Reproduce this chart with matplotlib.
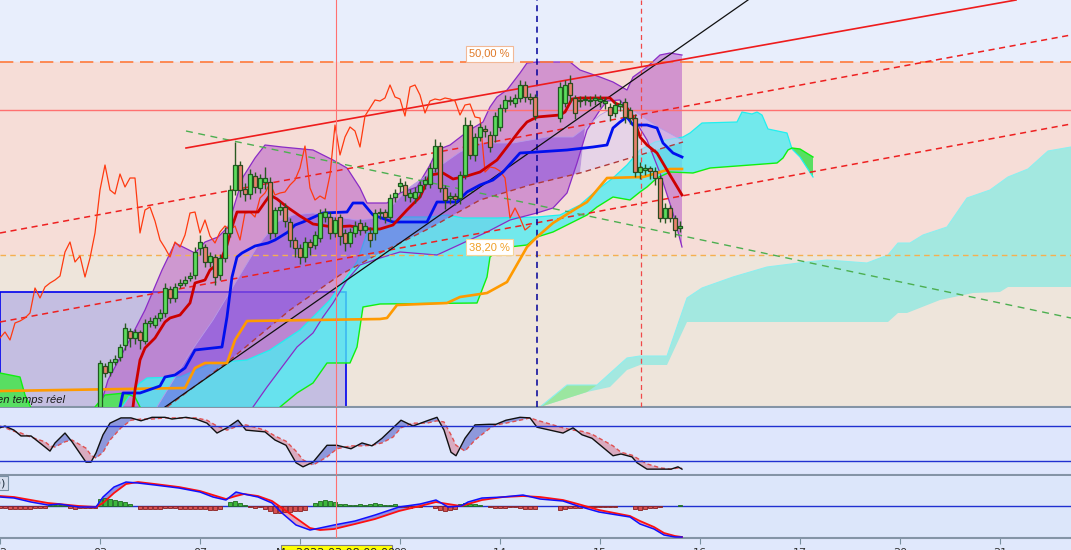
import matplotlib.pyplot as plt
import numpy as np
from matplotlib.patches import Rectangle

# ---- bougies (unite : barre ; prix en points) ----
opens = [0, 41, 35, 45, 50, 62, 76, 69, 75, 66,
         84, 82, 89, 94, 118, 109, 122, 124, 129, 132,
         159, 160, 145, 150, 132, 149, 174, 217, 242, 218,
         213, 231, 219, 225, 225, 174, 197, 200, 185, 167,
         159, 150, 165, 162, 169, 190, 190, 174, 190, 174,
         164, 174, 184, 177, 174, 174, 194, 195, 190, 210,
         221, 222, 210, 209, 215, 223, 223, 239, 261, 219,
         209, 211, 209, 232, 282, 252, 270, 278, 272, 272,
         280, 299, 307, 304, 309, 322, 310, 310, None, None,
         None, None, 289, 304, 324, 309, 307, 307, 306, 307,
         306, 304, 300, 294, 301, 305, 297, 289, 235, 237,
         239, 236, 229, 189, 199, 189, 179]
closes = [44, 34, 45, 48, 60, 79, 69, 75, 67, 84,
          86, 89, 94, 119, 109, 120, 124, 127, 131, 155,
          165, 145, 151, 130, 149, 174, 217, 242, 217, 213,
          233, 220, 229, 229, 174, 197, 200, 186, 167, 159,
          150, 165, 160, 172, 194, 195, 174, 187, 171, 164,
          175, 181, 177, 181, 167, 194, 195, 190, 209, 214,
          224, 212, 214, 215, 222, 227, 239, 261, 219, 207,
          211, 208, 232, 282, 252, 270, 280, 276, 260, 291,
          299, 307, 306, 309, 322, 310, 308, 291, None, None,
          None, None, 320, 322, 312, 294, 306, 308, 307, 309,
          308, 306, 292, 302, 303, 290, 289, 235, 240, 239,
          236, 229, 189, 199, 189, 177, 181]
highs = [47, 44, 48, 52, 63, 84, 79, 78, 77, 88,
         90, 92, 98, 124, 121, 124, 128, 131, 135, 160,
         172, 163, 155, 153, 153, 180, 222, 265, 246, 224,
         238, 235, 233, 240, 230, 200, 205, 204, 189, 170,
         163, 170, 168, 176, 198, 199, 195, 190, 193, 178,
         179, 186, 188, 185, 180, 198, 199, 198, 213, 218,
         229, 226, 218, 220, 226, 231, 244, 268, 265, 222,
         215, 214, 236, 290, 287, 274, 284, 282, 276, 295,
         303, 312, 311, 313, 327, 326, 314, 313, None, None,
         None, None, 325, 327, 332, 312, 311, 312, 311, 313,
         312, 310, 304, 306, 307, 309, 300, 293, 245, 243,
         241, 240, 232, 204, 202, 192, 186]
lows = [0, 30, 31, 42, 46, 57, 60, 63, 58, 63,
        80, 79, 86, 90, 104, 105, 119, 121, 126, 128,
        152, 140, 140, 122, 127, 145, 170, 212, 210, 206,
        208, 214, 214, 218, 168, 170, 192, 180, 160, 150,
        143, 145, 152, 158, 165, 185, 168, 170, 162, 156,
        160, 170, 172, 174, 160, 167, 188, 184, 186, 205,
        215, 206, 205, 204, 210, 218, 219, 235, 215, 198,
        203, 202, 203, 228, 248, 246, 266, 270, 255, 265,
        276, 295, 302, 300, 305, 305, 303, 287, None, None,
        None, None, 285, 300, 305, 288, 300, 302, 301, 302,
        300, 298, 286, 290, 296, 284, 283, 230, 228, 232,
        228, 222, 185, 184, 185, 170, 175]
first_bar = 20
chikou_shift = 26

# ---- ichimoku ----
tenkan_x = [26.6, 27, 28, 29, 31, 33, 34, 36, 38, 39, 41, 42, 44, 45.4, 46.4, 47.4, 51.6, 53, 54, 55.4,
            57.4, 60, 62.6, 66.6, 70, 74, 76, 78.6, 81.4, 84, 86, 88.6, 90.6, 93.4, 96, 99.4, 101.4, 104,
            105.4, 107.4, 112, 113, 114.4, 116, 122, 123, 125.4, 126.4, 127.4, 128, 129.4, 131.4, 133.4,
            134.6, 136.4]
tenkan_v = [0, 17, 47, 59, 69, 85, 89, 92, 104, 124, 127, 137, 145, 162, 180, 195, 195, 205, 212, 208,
            200, 191, 183, 180, 181, 178, 178, 182, 197, 210, 232, 234, 228, 231, 235, 247, 260, 277,
            285, 290, 292, 295, 308, 309, 309, 304, 299, 292, 279, 270, 262, 254, 237,
            227, 212]
kijun_x = [24, 24.6, 28, 32, 33, 35, 37, 39, 44.4, 45.4, 46.4, 47.4, 48.4, 51, 53.6, 55, 57.6, 59, 60.6,
           64.6, 69.4, 70.6, 72.6, 74.6, 78.6, 85.4, 87.4, 91.4, 93.4, 96, 98.6, 100.6, 104, 107.4, 113.4,
           118.6, 121.4, 122.6, 124, 125.4, 126.6, 129.4, 131.4, 132.6, 134.6, 136.4]
kijun_v = [0, 14, 14, 21, 30, 32, 39, 57, 60, 90, 130, 150, 154, 161, 164, 167, 175, 182, 185,
           194, 195, 204, 204, 192, 185, 185, 205, 205, 215, 222, 227, 235, 254, 255, 257,
           260, 262, 279, 285, 290, 282, 282, 279, 264, 254, 250]
span_a_x = [0, 12, 20, 24, 26, 28, 29.4, 36, 42.6, 49.4, 54, 60, 66, 71.4, 73.4, 76, 80, 86, 89.4, 92.6,
            99.4, 107.4, 112, 116, 119.4, 122.6, 125.4, 128, 131, 136.6, 138, 140.4, 147.4, 148.4, 150.4,
            151.4, 152.4, 153.6, 157.4, 158.4, 160, 162.6]
span_a_v = [-23, -23, -13, -3, 12, 24, 29, 30, 44, 47, 57, 77, 107, 145, 174, 177, 190, 190, 192, 189,
            189, 190, 192, 202, 217, 229, 242, 257, 265, 270, 274, 284, 285, 295, 293,
            295, 292, 278, 274, 258, 250, 230]
span_b_x = [0, 4, 5, 6.4, 8, 18, 19, 21, 25, 27, 28, 30, 54, 56, 59.4, 62.6, 65.4, 70, 71.4, 72.6, 76,
            95.4, 97.4, 98, 100, 105.4, 107.4, 110.6, 115.4, 117.4, 119.4, 122.6, 126, 128, 129.4, 131.4,
            134, 138.6, 142, 147.4, 155.4, 156.6, 157.6, 158.4, 160, 162.6]
span_b_v = [34, 30, 12, -3, -23, -23, 0, 12, 14, 10, 0, -23, -23, 0, 14, 24, 44, 44, 60, 100, 103,
            104, 130, 150, 159, 162, 170, 175, 187, 192, 200, 210, 207, 215, 220, 229,
            235, 234, 239, 241, 244, 249, 257, 259, 258, 250]
trail_x = [0, 37, 39, 41, 45.4, 47, 49.4, 76, 77.4, 79.4, 89.4, 92, 97.4, 101.4, 105.4, 107.4, 110.6,
           115.4, 117.4, 121.4, 128.6, 131.4, 134, 136.4]
trail_v = [16, 19, 39, 44, 44, 67, 86, 88, 89, 102, 104, 110, 114, 125, 160, 170, 184,
           199, 205, 229, 230, 234, 238, 238]

# nuage de l'unite superieure (a droite)
htf_top_x = [108, 113.4, 119.4, 125.4, 128, 133.4, 137.4, 140.4, 146.6, 153.4, 161.4, 165.4, 173.4, 177.6,
             179.6, 182, 184.6, 189.4, 193.4, 198, 201.6, 205.6, 209.6, 214.2]
htf_top_v = [0, 22, 22, 49, 51, 51, 109, 119, 130, 140, 145, 147, 144, 152,
             164, 164, 172, 180, 209, 217, 230, 238, 256, 260]
htf_bot_x = [108, 117.4, 122, 125.4, 128, 133.4, 137.4, 177.6, 179.6, 181.4, 188, 194.6, 200, 201.6, 214.2]
htf_bot_v = [0, 15, 20, 37, 42, 42, 85, 85, 94, 94, 107, 114, 115, 120, 120]

# ---- bandes ----
bb_up_x = [20, 21.6, 25.6, 29, 32.4, 35, 36.6, 39, 41, 43.6, 45.6, 47, 48.6, 51, 53, 56.4, 62.6, 66.6, 69.4,
           72, 73.4, 77.4, 80, 83.4, 86, 87.4, 90, 92.6, 94.6, 96.6, 98, 99.4, 101.4, 104, 105.4, 107.4,
           114, 116, 120, 122.6, 125.4, 126.6, 129.4, 132, 134, 136.4]
bb_up_v = [0, 27, 64, 97, 137, 164, 160, 154, 165, 170, 180, 204, 230, 249, 262, 260, 257, 247, 239,
           219, 204, 204, 214, 220, 242, 257, 262, 272, 279, 285, 300, 310, 317, 334, 344, 345,
           345, 337, 330, 325, 317, 330, 340, 352, 354, 352]
bb_lo_x = [50.6, 53.4, 59.4, 62.6, 64.6, 66.6, 69.4, 72, 76, 80, 87.4, 92.6, 97.4, 102, 107.4, 110.6, 113.4,
           115.4, 117.4, 120, 121.4, 124, 126.6, 129.4, 132, 134.6, 136.4]
bb_lo_v = [0, 20, 60, 74, 90, 104, 127, 142, 149, 155, 152, 164, 175, 187, 194, 199, 214,
           244, 277, 297, 306, 307, 290, 267, 234, 194, 160]
in_up_x = [31.4, 38, 42.6, 47.4, 51.4, 55.4, 58.6, 62.6, 67.4, 71.4, 76, 82, 86, 92, 96, 102.6, 109.4, 114.6,
           117, 120, 122.6, 125.4, 128, 132, 136.4]
in_up_v = [0, 54, 87, 127, 160, 185, 192, 194, 190, 187, 189, 220, 234, 255, 264, 264, 270, 270,
           279, 292, 299, 301, 292, 279, 267]
in_lo_x = [33.4, 46, 58, 68, 76, 86, 96, 106, 116, 126, 136.6]
in_lo_v = [0, 47, 97, 132, 154, 179, 207, 222, 234, 249, 265]

# ---- niveaux et droites ----
fib_50 = 345
fib_382 = 152
level_line = 297
black_x, black_v = [33, 149.6], [0, 407]
chan_x, chan_v = [37.2, 203.2], [259, 407]
dash1_x, dash1_v = [0, 214.2], [174, 372]
dash2_x, dash2_v = [0, 214.2], [85, 283]
green_x, green_v = [37.2, 214.2], [276, 89]
vline_cursor = 67.2
vline_blue = 107.4
vline_red = 128.2
box_x, box_w, box_h = 0, 69.2, 115

# ---- stochastique ----
sto_x = [0, 1, 2.8, 4.2, 6.2, 9, 10, 11, 13, 14.4, 17.2, 18.2, 19.2, 20.6, 22, 24.2, 26.2, 28.2, 30.4, 33,
         34.4, 37.2, 39.2, 41.4, 43.4, 45.4, 47.6, 49.2, 53, 55, 57.2, 59.2, 60.6, 62.6, 65.4, 67.4, 70.2,
         72.4, 74.4, 76.4, 78.6, 80.2, 82.6, 85.4, 87.4, 88.8, 90.2, 91.2, 93, 95, 97.8, 99.2, 101.2, 104,
         106, 107.4, 112.6, 114.6, 116.4, 118.4, 122.6, 124.2, 126.4, 127.4, 129.4, 132.2, 134.2, 135.6, 136.4]
sto_k = [77, 80, 73, 63, 63, 44, 37, 51, 68, 53,
         18, 18, 34, 65, 85, 94, 94, 89, 95, 95,
         92, 95, 92, 85, 68, 77, 90, 73, 70, 56,
         47, 17, 10, 18, 47, 47, 41, 51, 46, 59,
         77, 90, 80, 89, 95, 73, 35, 29, 59, 82,
         83, 83, 90, 95, 94, 78, 68, 77, 65, 59,
         29, 32, 27, 17, 6, 6, 6, 10, 6]
sto_d = [80, 77, 71, 68, 61, 53, 46, 44, 53, 56,
         42, 30, 25, 35, 56, 77, 90, 92, 92, 94,
         94, 94, 94, 90, 80, 73, 80, 82, 73, 63,
         54, 37, 22, 13, 27, 41, 46, 46, 47, 51,
         61, 77, 85, 85, 89, 87, 65, 47, 37, 56,
         75, 82, 85, 90, 94, 90, 77, 73, 71, 66,
         46, 35, 30, 25, 15, 8, 6, 8, 8]

# ---- MACD ----
macd_x = [0, 2.8, 6.2, 9.6, 11.8, 15.8, 19.2, 20.6, 22.8, 25.2, 27.6, 31, 35.8, 40, 42.6, 45.2, 47.2, 48.8,
          51.6, 54.4, 56.4, 59.2, 62, 64, 66.8, 71, 75, 79.8, 84, 87.2, 89.6, 92.2, 93.6, 96.4, 100.6,
          104.6, 108, 112.6, 115.6, 119.8, 126, 128, 130.8, 132.8, 135, 136.4]
macd_v = [9, 8, 4, 1, 2, -1, -1, 9, 19, 24, 23, 21, 18, 14, 9, 6, 14, 12, 9, 3,
          -7, -19, -24, -22, -19, -15, -9, -1, 2, 6, -1, 0, 4, 8, 9, 11, 7, 5, 0, -6,
          -11, -18, -23, -29, -31, -31]
signal_v = [10, 9, 6, 3, 2, 0, -1, 3, 13, 22, 24, 22, 19, 15, 11, 7, 10, 12, 10, 5,
            -2, -12, -22, -24, -23, -18, -13, -5, 0, 4, 2, 0, 2, 6, 9, 10, 9, 6, 2, -4,
            -10, -15, -21, -27, -30, -31]
hist_v = [-2, -2, -3, -3, -3, -3, -3, -2, -2, -2, 1, 1, 1, 1, -2, -3, -2, -2, -2, -2,
          7, 8, 7, 6, 5, 4, 2, 0, -3, -3, -3, -3, -3, -2, -2, -2, -3, -3, -3, -3,
          -3, -3, -4, -4, -3, 0, 4, 5, 3, 1, -1, -2, -1, -3, -5, -7, -7, -6, -6, -5,
          -5, -4, 0, 3, 5, 6, 5, 4, 2, 2, 1, 1, 2, 1, 2, 3, 2, 1, 1, 2,
          -1, -1, -2, -1, -1, 0, 0, -2, -4, -5, -4, -3, 2, 3, 2, 2, 1, 0, -1, -2,
          -2, -2, -1, -1, -2, -3, -3, -3, 0, 0, 0, 0, -4, -3, -2, -2, -2, -1, -1, -1,
          -1, -1, -1, -1, 0, 0, 0, -3, -4, -3, -2, -2, -1, 0, 0, 0, 1]

day_ticks = [0, 20, 40, 60, 80, 100, 120, 140, 160, 180, 200]
day_labels = ['02', '03', '07', '', '09', '14', '15', '16', '17', '20', '21']
cursor_label = 'Ma 2022.03.08 09:00'


def part(xs, ys, lo, hi):
    pts = [(x, y) for x, y in zip(xs, ys) if lo <= x <= hi]
    return [p[0] for p in pts], [p[1] for p in pts]


def fill_poly(ax, xa, ya, xb, yb, **kw):
    ax.fill(list(xa) + list(xb)[::-1], list(ya) + list(yb)[::-1], **kw)


fig = plt.figure(figsize=(10.71, 5.5), dpi=100)
fig.patch.set_facecolor('#E0E8FC')
ax = fig.add_axes([0, 0.26, 1, 0.74])
ax2 = fig.add_axes([0, 0.1364, 1, 0.1218], sharex=ax)
ax3 = fig.add_axes([0, 0.0218, 1, 0.1127], sharex=ax)

# fond et zones de Fibonacci
ax.set_facecolor('#E8EEFC')
ax.axhspan(fib_382, fib_50, color='#F6DDD7', zorder=0)
ax.axhspan(-50, fib_382, color='#EEE5DB', zorder=0)

# nuage superieur
fill_poly(ax, htf_top_x, htf_top_v, htf_bot_x, htf_bot_v, color='#A3E8E0', lw=0, zorder=1)
gx1, gy1 = part(htf_top_x, htf_top_v, 100, 120)
gx2, gy2 = part(htf_bot_x, htf_bot_v, 100, 120)
fill_poly(ax, gx1, gy1, gx2, gy2, color='#9BE6A0', lw=0, zorder=1)
ax.plot(htf_top_x, htf_top_v, color='#8EEFEF', lw=0.8, zorder=1)

# rectangle bleu (sous le nuage)
ax.add_patch(Rectangle((box_x, 0), box_w, box_h, facecolor=(0.43, 0.43, 0.94, 0.32),
                       edgecolor='#0000EE', lw=1.2, zorder=1.5))

# bande exterieure
fill_poly(ax, bb_up_x, bb_up_v, bb_lo_x, bb_lo_v, color=(0.71, 0.35, 0.78, 0.55), lw=0, zorder=3)

# nuage ichimoku (par-dessus la bande exterieure, semi-transparent)
fill_poly(ax, span_a_x, span_a_v, span_b_x, span_b_v, color=(0.30, 0.93, 0.95, 0.78), lw=0, zorder=4)
for lo, hi in [(0, 8), (18, 26.5), (158, 163)]:
    bx, bv = part(span_b_x, span_b_v, lo, hi)
    axx, av = part(span_a_x, span_a_v, lo, hi)
    fill_poly(ax, bx, bv, axx, av, color='#58DE62', lw=0, zorder=4.2)
ax.plot(span_a_x, span_a_v, color='#20F0F0', lw=0.9, zorder=4.3)
ax.plot(span_b_x, span_b_v, color='#10F010', lw=1.0, zorder=4.3)

# bande interieure
ux, uv = part(in_up_x, in_up_v, 0, 117)
lx, lv = part(in_lo_x, in_lo_v, 0, 117)
fill_poly(ax, ux, uv, lx, lv, color=(0.47, 0.27, 0.9, 0.45), lw=0, zorder=5)
ux, uv = part(in_up_x, in_up_v, 116, 137)
lx, lv = part(in_lo_x, in_lo_v, 116, 137)
fill_poly(ax, ux, uv, lx, lv, color=(0.85, 0.8, 0.96, 0.55), lw=0, zorder=5)
ax.plot(bb_up_x, bb_up_v, color='#8A2BC6', lw=0.9, zorder=5)
ax.plot(bb_lo_x, bb_lo_v, color='#8A2BC6', lw=0.9, zorder=5)
ax.plot(in_up_x, in_up_v, color='#B79BE8', lw=0.6, zorder=5)
ax.plot(in_lo_x, in_lo_v, color='#B03A3A', lw=1.0, ls=(0, (4, 3)), zorder=6)

# niveaux horizontaux
ax.axhline(fib_50, color='#FF7A3A', lw=1.2, ls=(0, (8, 4)), zorder=6)
ax.axhline(level_line, color='#FF7070', lw=1.0, zorder=6)
ax.axhline(fib_382, color='#F5B050', lw=1.0, ls=(0, (4, 3)), zorder=6)

# droites
ax.plot(black_x, black_v, color='#101010', lw=0.9, zorder=7)
ax.plot(chan_x, chan_v, color='#EE1C1C', lw=1.2, zorder=7)
ax.plot(dash1_x, dash1_v, color='#EE2020', lw=1.1, ls=(0, (4, 3)), zorder=6)
ax.plot(dash2_x, dash2_v, color='#EE2020', lw=1.1, ls=(0, (4, 3)), zorder=6)
ax.plot(green_x, green_v, color='#4CAF50', lw=1.0, ls=(0, (5, 4)), zorder=6)

# verticales
for a in (ax, ax2, ax3):
    a.axvline(vline_cursor, color='#FF7070', lw=0.8, zorder=9)
ax.axvline(vline_blue, color='#000099', lw=1.1, ls=(0, (4, 3)), zorder=6)
ax.axvline(vline_red, color='#F04848', lw=0.9, ls=(0, (4, 3)), zorder=6)

# lignes ichimoku
c_arr = np.array([np.nan if c is None else c for c in closes], dtype=float)
valid = c_arr[~np.isnan(c_arr)]
chikou_x = first_bar + np.arange(len(valid)) - chikou_shift
ax.plot(chikou_x, valid, color='#FF3A10', lw=0.9, zorder=7)
ax.plot(trail_x, trail_v, color='#FF9A00', lw=1.9, zorder=7)
ax.plot(kijun_x, kijun_v, color='#0010EE', lw=2.0, zorder=7)
ax.plot(tenkan_x, tenkan_v, color='#CC0000', lw=2.0, zorder=7)

# bougies
o_arr = np.array([np.nan if v is None else v for v in opens], dtype=float)
h_arr = np.array([np.nan if v is None else v for v in highs], dtype=float)
l_arr = np.array([np.nan if v is None else v for v in lows], dtype=float)
bars = first_bar + np.arange(len(opens))
up = c_arr >= o_arr
dn = c_arr < o_arr
ax.vlines(bars, l_arr, h_arr, color='#2A5A22', lw=1.0, zorder=8)
ax.bar(bars[up], (c_arr - o_arr)[up], bottom=o_arr[up], width=0.7,
       color='#5CDC5C', edgecolor='#1E5A1E', lw=0.9, zorder=9)
ax.bar(bars[dn], (o_arr - c_arr)[dn], bottom=c_arr[dn], width=0.7,
       color='#E8806C', edgecolor='#2A4A1E', lw=0.9, zorder=9)

# etiquettes
ax.text(97.9, 353, '50,00 %', ha='center', va='center', fontsize=8, family='Liberation Sans',
        color='#E07A28', zorder=10,
        bbox=dict(boxstyle='square,pad=0.25', fc='white', ec='#F2B896', lw=0.8))
ax.text(97.9, 160, '38,20 %', ha='center', va='center', fontsize=8, family='Liberation Sans',
        color='#F0A028', zorder=10,
        bbox=dict(boxstyle='square,pad=0.25', fc='white', ec='#F5D69A', lw=0.8))
ax.text(13.0, 2, 'Données en temps réel', ha='right', va='bottom', fontsize=8, style='italic',
        family='Liberation Sans', color='#1A1A1A', zorder=10)

ax.set_xlim(0, 214.2)
ax.set_ylim(0, 407)

# stochastique
ax2.set_facecolor('#DEE6FC')
sk, sd = np.array(sto_k), np.array(sto_d)
ax2.fill_between(sto_x, sk, sd, where=sk >= sd, interpolate=True, color='#8E98DC', lw=0)
ax2.fill_between(sto_x, sk, sd, where=sk < sd, interpolate=True, color='#D9ABC0', lw=0)
ax2.plot(sto_x, sd, color='#E05050', lw=1.0, ls=(0, (3, 2)))
ax2.plot(sto_x, sk, color='#111111', lw=1.0)
ax2.axhline(80, color='#2030D0', lw=1.0)
ax2.axhline(20, color='#2030D0', lw=1.0)
ax2.set_ylim(-4, 111)

# MACD
ax3.set_facecolor('#DCE6FA')
mv, sv = np.array(macd_v), np.array(signal_v)
ax3.fill_between(macd_x, mv, sv, where=mv >= sv, interpolate=True, color='#9090E6', lw=0)
ax3.fill_between(macd_x, mv, sv, where=mv < sv, interpolate=True, color='#E6A4B6', lw=0)
hv = np.array(hist_v)
hx = np.arange(len(hist_v))
ax3.bar(hx[hv > 0], hv[hv > 0], width=0.7, color='#3CB83C', edgecolor='#1E6A1E', lw=0.6, zorder=3)
ax3.bar(hx[hv < 0], hv[hv < 0], width=0.7, color='#D85050', edgecolor='#8A2020', lw=0.6, zorder=3)
ax3.axhline(0, color='#2030D0', lw=1.0, zorder=2)
ax3.plot(macd_x, signal_v, color='#FF1010', lw=1.3, zorder=4)
ax3.plot(macd_x, macd_v, color='#1010FF', lw=1.1, zorder=4)
ax3.set_ylim(-32, 30)
ax3.text(1.2, 23, 'MACD(12,26,9)', ha='right', va='center', fontsize=8, color='#203040',
         bbox=dict(boxstyle='square,pad=0.2', fc='#D6DEEE', ec='#7A90A4', lw=0.8))

for a in (ax, ax2, ax3):
    for s in ('top', 'left', 'right'):
        a.spines[s].set_visible(False)
    a.spines['bottom'].set_color('#8494A6')
    a.spines['bottom'].set_linewidth(1.5)
    a.tick_params(left=False, labelleft=False, bottom=False, labelbottom=False)

ax3.set_xticks(day_ticks)
ax3.set_xticklabels(day_labels)
ax3.tick_params(bottom=True, labelbottom=True, length=4, color='#7890A0',
                labelsize=8, pad=3, labelcolor='#303030')

# curseur date
fig.patches.append(Rectangle((281 / 1071, 0), 111 / 1071, 5 / 550, transform=fig.transFigure,
                             fc='#FFFF00', ec='#808080', lw=0.8, zorder=20))
fig.text(336 / 1071, 2 / 550, cursor_label, ha='center', va='top', fontsize=8,
         color='#202020', zorder=21)

fig.savefig('out.png', dpi=100)
